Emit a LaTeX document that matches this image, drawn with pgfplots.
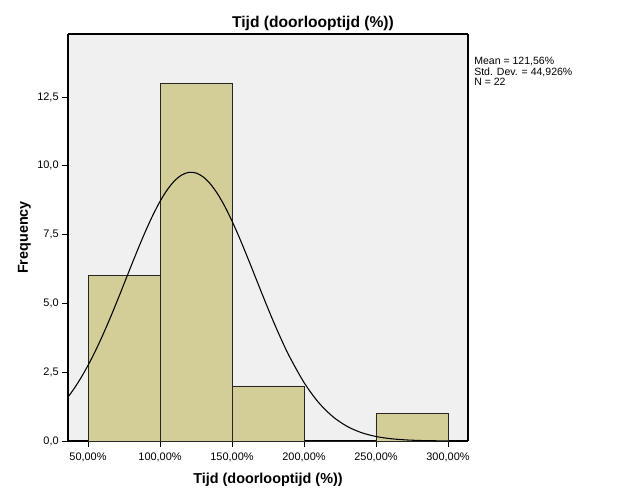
\documentclass[border=0pt]{standalone}
\usepackage{pgfplots}
\pgfplotsset{compat=1.18}
\usepackage{fontspec}
\setmainfont{Liberation Sans}
\definecolor{barfill}{RGB}{211,206,152}
\definecolor{bgfill}{RGB}{240,240,240}
\definecolor{framegray}{RGB}{90,90,90}
\begin{document}
\begin{tikzpicture}
\begin{axis}[
  at={(0pt,0pt)},
  anchor=south west,
  scale only axis,
  width=300pt, height=305.25pt,
  xmin=36.1, xmax=313.9,
  ymin=0, ymax=14.79,
  axis background/.style={fill=bgfill},
  axis line style={framegray, line width=0.8pt},
  separate axis lines,
  x axis line style={black},
  y axis line style={black},
  xtick={50,100,150,200,250,300},
  xticklabels={{50,00\%},{100,00\%},{150,00\%},{200,00\%},{250,00\%},{300,00\%}},
  ytick={0,2.5,5,7.5,10,12.5},
  yticklabels={{0,0},{2,5},{5,0},{7,5},{10,0},{12,5}},
  tick align=outside,
  tick pos=left,
  major tick length=4.5pt,
  tick style={black, line width=0.6pt},
  ticklabel style={font=\fontsize{8.2pt}{9pt}\selectfont},
  xticklabel style={yshift=-1pt},
  yticklabel style={xshift=1pt},
  xlabel={\textbf{Tijd (doorlooptijd (\%))}},
  ylabel={\textbf{Frequency}},
  label style={font=\fontsize{10.8pt}{12pt}\selectfont},
  xlabel style={yshift=-1.5pt},
  ylabel style={yshift=-2pt},
  clip=true,
]
\addplot[ybar interval, fill=barfill, draw=black!85, line width=0.6pt] coordinates {
  (50,6) (100,13) (150,2) (200,0) (250,1) (300,1)
};
\addplot[black, line width=0.8pt, smooth, tension=0.5] coordinates {
  (36.1,1.600) (40,1.879) (45,2.287) (50,2.748) (55,3.260) (60,3.820)
  (65,4.422) (70,5.056) (75,5.709) (80,6.368) (85,7.014) (90,7.632)
  (95,8.202) (100,8.705) (105,9.126) (110,9.449) (115,9.664) (120,9.762)
  (125,9.739) (130,9.597) (135,9.340) (140,8.979) (145,8.526) (150,7.994)
  (155,7.405) (160,6.773) (165,6.121) (170,5.462) (175,4.815) (180,4.192)
  (185,3.605) (190,3.061) (200,2.127) (210,1.407) (220,0.886) (230,0.530)
  (240,0.302) (250,0.164) (260,0.085) (270,0.042) (280,0.019)
  (290,0.009) (300,0.004)
};
\end{axis}
\node[anchor=base, inner sep=0pt,
      font=\fontsize{11.7pt}{12pt}\selectfont\bfseries] at (183.75pt,309.9pt)
  {Tijd (doorlooptijd (\%))};
\node[anchor=north west, align=left, inner sep=0pt,
      font=\fontsize{7.9pt}{7.9pt}\selectfont] at (304.5pt,288pt)
  {Mean = 121,56\%\\Std. Dev. = 44,926\%\\N = 22};
\pgfresetboundingbox
\useasboundingbox (-51pt,-45pt) rectangle (418.5pt,330.75pt);
\end{tikzpicture}
\end{document}
